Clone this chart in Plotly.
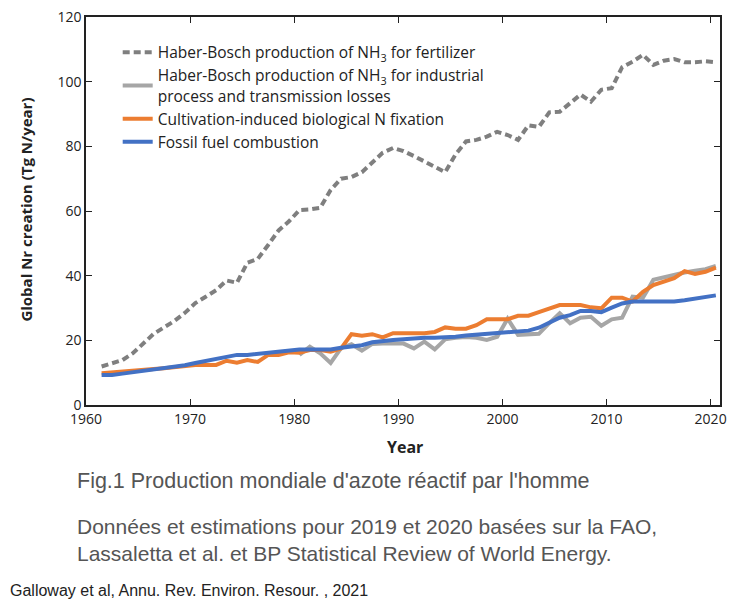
import plotly.graph_objects as go
import numpy as np

# years 1961-2020, values plotted at mid-year
years = np.arange(1961, 2021)

hb_fertilizer = [11.9, 12.9, 13.9, 16.0, 19.0, 22.0, 24.0, 26.0, 28.5, 31.5,
                 33.5, 35.5, 38.5, 37.8, 44.0, 45.2, 49.5, 54.0, 56.8, 60.3,
                 60.5, 61.0, 66.5, 70.0, 70.5, 72.0, 75.0, 78.0, 79.5, 78.5,
                 77.0, 75.3, 73.5, 72.0, 77.5, 81.5, 82.0, 83.0, 84.5, 83.5,
                 82.0, 86.5, 86.0, 90.5, 90.7, 93.3, 96.0, 93.8, 97.5, 98.0,
                 104.5, 106.2, 108.3, 105.2, 106.5, 107.0, 106.0, 106.0, 106.3, 106.0]

# industrial series only from 1980
hb_industrial = [None] * 19 + [
    15.5, 18.0, 16.0, 13.0, 17.6, 18.8, 16.8, 18.9, 19.0, 19.0,
    19.0, 17.5, 19.6, 17.2, 20.3, 20.8, 21.0, 20.8, 20.1, 21.1,
    26.7, 21.7, 21.7, 22.0, 25.3, 28.4, 25.3, 27.0, 27.3, 24.5,
    26.5, 27.0, 33.5, 33.2, 38.7, 39.5, 40.3, 41.0, 41.5, 42.0,
    43.0]

cultivation = [9.8, 10.0, 10.2, 10.5, 10.8, 11.1, 11.4, 11.8, 12.1, 12.4,
               12.4, 12.4, 13.7, 13.1, 13.9, 13.3, 15.5, 15.5, 16.3, 16.2,
               17.0, 17.0, 16.5, 17.5, 21.9, 21.4, 21.9, 20.9, 22.2, 22.2,
               21.9, 22.2, 22.6, 24.0, 23.6, 23.6, 24.7, 26.5, 26.5, 26.5,
               27.6, 27.6, 28.7, 29.7, 30.9, 30.9, 30.9, 30.2, 29.9, 33.2,
               33.2, 32.0, 35.0, 37.1, 38.0, 39.2, 41.4, 40.5, 41.2, 42.5]

fossil = [9.3, 9.3, 9.7, 10.1, 10.5, 10.9, 11.3, 11.7, 12.3, 13.0,
          13.7, 14.2, 15.0, 15.5, 15.5, 15.8, 16.2, 16.6, 17.0, 17.2,
          17.2, 17.2, 17.2, 17.7, 18.2, 18.5, 19.4, 19.9, 20.1, 20.3,
          20.6, 20.8, 20.8, 20.8, 21.1, 21.5, 21.8, 22.0, 22.3, 22.5,
          22.9, 23.0, 23.9, 25.6, 27.0, 27.8, 29.1, 29.1, 28.7, 30.1,
          31.4, 32.0, 32.0, 32.0, 32.0, 32.0, 32.4, 32.9, 33.4, 33.9]

x_ticks = [1960, 1970, 1980, 1990, 2000, 2010, 2020]

x = years + 0.5
base_font = "Open Sans, sans-serif"
cap_font = "Liberation Sans, Arial, sans-serif"

fig = go.Figure()
fig.add_trace(go.Scatter(x=x, y=hb_fertilizer, mode="lines",
                         name="Haber-Bosch production of NH<sub>3</sub> for fertilizer",
                         line=dict(color="#7f7f7f", width=4, dash="7px,4px")))
fig.add_trace(go.Scatter(x=x, y=hb_industrial, mode="lines",
                         name="Haber-Bosch production of NH<sub>3</sub> for industrial<br>process and transmission losses",
                         line=dict(color="#a6a6a6", width=4)))
fig.add_trace(go.Scatter(x=x, y=cultivation, mode="lines",
                         name="Cultivation-induced biological N fixation",
                         line=dict(color="#ec7d31", width=4)))
fig.add_trace(go.Scatter(x=x, y=fossil, mode="lines",
                         name="Fossil fuel combustion",
                         line=dict(color="#4371c4", width=4)))

axis_style = dict(showline=True, linecolor="#222", linewidth=1.5, mirror="ticks",
                  ticks="inside", ticklen=6, tickcolor="#222", tickwidth=1.2,
                  showgrid=False, zeroline=False, automargin=False,
                  ticklabeloverflow="allow",
                  tickfont=dict(family=base_font, size=14, color="#222"))

fig.update_layout(
    width=737, height=602,
    margin=dict(l=78, r=25, t=9, b=205),
    plot_bgcolor="white", paper_bgcolor="white",
    font=dict(family=base_font, size=14, color="#222"),
    xaxis=dict(range=[1960, 2020.9], tickvals=x_ticks, **axis_style),
    yaxis=dict(range=[0, 120], dtick=20, **axis_style),
    legend=dict(x=0.05, y=0.952, xanchor="left", yanchor="top",
                bgcolor="rgba(0,0,0,0)", tracegroupgap=0,
                font=dict(family=base_font, size=15.5, color="#222")),
    showlegend=True,
)

fig.add_annotation(text="<b>Year</b>", xref="paper", yref="paper", x=0.503, y=-0.108,
                   xanchor="center", yanchor="middle", showarrow=False,
                   font=dict(family=base_font, size=16, color="#222"))
fig.add_annotation(text="<b>Global Nr creation (Tg N/year)</b>", xref="paper", yref="paper",
                   x=-0.095, y=0.503, xanchor="center", yanchor="middle", textangle=-90,
                   showarrow=False, font=dict(family=base_font, size=15, color="#222"))
fig.add_annotation(text="Fig.1 Production mondiale d'azote réactif par l'homme",
                   xref="paper", yref="paper", x=-0.0174, y=-0.196, xanchor="left",
                   yanchor="middle", showarrow=False,
                   font=dict(family=cap_font, size=21.5, color="#555"))
fig.add_annotation(text="Données et estimations pour 2019 et 2020 basées sur la FAO,<br>"
                        "Lassaletta et al. et BP Statistical Review of World Energy.",
                   xref="paper", yref="paper", x=-0.0174, y=-0.349, xanchor="left",
                   yanchor="middle", align="left", showarrow=False,
                   font=dict(family=cap_font, size=21, color="#555"))
fig.add_annotation(text="Galloway et al, Annu. Rev. Environ. Resour. , 2021",
                   xref="paper", yref="paper", x=-0.123, y=-0.477, xanchor="left",
                   yanchor="middle", showarrow=False,
                   font=dict(family=cap_font, size=16, color="#222"))

fig.write_html("out.html")
